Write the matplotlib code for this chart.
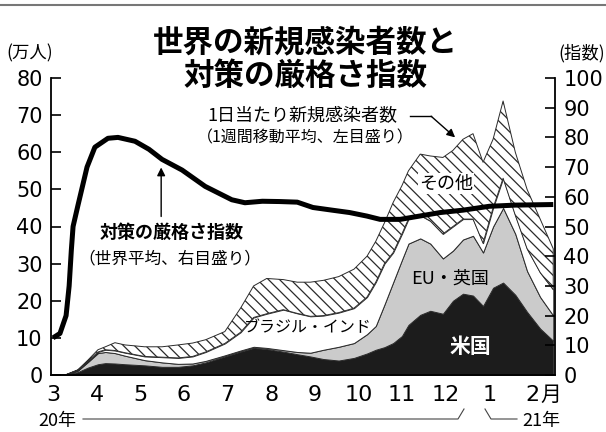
import matplotlib.pyplot as plt
import numpy as np
from matplotlib.lines import Line2D

# month position: 0 = 2020-03-01, 1 = 04-01, ... 11 = 2021-02-01
month_pos = list(range(12))
month_labels = ["3", "4", "5", "6", "7", "8", "9", "10", "11", "12", "1", "2"]

# new cases per day, 7-day avg (10k people), stacked
m = [0, 0.3, 0.57, 0.8, 1.03, 1.2, 1.42, 1.65, 2.1, 2.5, 2.87, 3.2, 3.5, 3.94,
     4.3, 4.6, 4.9, 5.28, 5.6, 5.9, 6.2, 6.55, 6.9, 7.2, 7.4, 7.6, 7.8, 8.0,
     8.15, 8.42, 8.65, 8.94, 9.17, 9.4, 9.63, 9.86, 10.09, 10.32, 10.6, 10.87,
     11.17, 11.47]
us = [0, 0.1, 0.8, 2.0, 2.9, 3.2, 3.1, 2.9, 2.6, 2.2, 2.2, 2.6, 3.4, 5.0,
      6.3, 7.3, 7.0, 6.3, 5.6, 5.0, 4.3, 3.9, 4.6, 5.8, 6.8, 7.5, 8.6, 10.5,
      13.5, 16.2, 17.3, 16.5, 20.0, 21.9, 21.4, 18.6, 23.5, 24.9, 21.6, 17.0,
      12.5, 9.2]
eu_uk = [0, 0, 0.4, 1.5, 3.0, 3.0, 2.8, 2.3, 1.4, 1.2, 0.8, 0.5, 0.4, 0.3,
         0.3, 0.3, 0.3, 0.4, 0.6, 1.0, 2.5, 3.7, 4.0, 5.2, 6.4, 11.5, 16.4, 20.5,
         21.9, 20.6, 18.1, 14.9, 13.5, 14.6, 16.1, 14.4, 16.5, 20.1, 16.4, 11.0,
         8.5, 6.8]
brazil_india = [0, 0, 0.1, 0.2, 0.3, 0.6, 0.7, 0.8, 1.0, 1.4, 1.6, 1.9, 2.4, 3.2,
                4.9, 7.9, 9.2, 10.9, 10.4, 9.8, 9.2, 9.2, 9.4, 10.0, 11.8, 11.0, 8.0, 7.0,
                6.6, 6.2, 6.1, 6.6, 6.5, 5.5, 4.5, 2.5, 5.0, 8.0, 5.0, 6.0,
                6.6, 7.0]
others = [0, 0, 0.1, 0.3, 0.6, 0.8, 2.1, 2.1, 2.6, 2.8, 3.5, 3.6, 3.3, 3.2,
          6.5, 8.5, 9.5, 8.1, 8.4, 9.2, 9.5, 9.7, 10.5, 11.0, 11.0, 11.0, 13.5, 13.0,
          13.0, 16.5, 17.5, 20.6, 20.5, 21.5, 23.0, 21.8, 18.5, 20.8, 17.0, 16.0,
          14.4, 11.0]

# stringency index (world average, right axis)
s_m = [0, 0.16, 0.3, 0.37, 0.42, 0.46, 0.57, 0.78, 0.96, 1.26, 1.49, 1.88, 2.2,
       2.5, 2.96, 3.49, 4.1, 4.4, 4.8, 5.2, 5.6, 5.96, 6.4, 6.8, 7.2, 7.5, 7.96,
       8.4, 8.88, 9.4, 10.0, 10.6, 11.47]
s_val = [12.5, 14, 20, 30, 42, 50, 57, 70, 76.7, 79.7, 80, 78.7, 76, 72.6, 69,
         63.5, 59, 58, 58.5, 58.4, 58.2, 56.4, 55.5, 54.7, 53.5, 52.4, 52.4,
         53.5, 54.7, 55.5, 56.8, 57.2, 57.4]

W, H = 606, 432
def fx(px): return px / W
def fy(py): return 1 - py / H

cjk = ["Noto Sans CJK JP", "DejaVu Sans"]
plt.rcParams["hatch.linewidth"] = 0.9

fig = plt.figure(figsize=(6.06, 4.32), dpi=100)
ax = fig.add_axes([fx(51), fy(375), fx(555) - fx(51), fy(78) - fy(375)])

polys = ax.stackplot(m, us, eu_uk, brazil_india, others,
                     colors=["#1c1c1c", "#cbcbcb", "white", "white"],
                     edgecolor="#2a2a2a", linewidth=0.7)
polys[3].set_hatch("\\" * 3)

ax.set_xlim(-0.046, 11.51)
ax.set_ylim(0, 80)
ax.set_yticks(range(0, 90, 10))
ax.set_xticks(month_pos)
ax.set_xticklabels(month_labels)
ax.tick_params(axis="y", direction="in", length=7, width=1.2, pad=6, labelsize=15)
ax.tick_params(axis="x", length=0, pad=7, labelsize=16)
for s in ["top", "right"]:
    ax.spines[s].set_visible(False)
ax.spines["left"].set_linewidth(1.3)
ax.spines["bottom"].set_linewidth(1.3)

ax2 = ax.twinx()
ax2.plot(s_m, s_val, color="black", lw=3.6, solid_capstyle="butt")
ax2.set_ylim(0, 100)
ax2.set_yticks(range(0, 110, 10))
ax2.tick_params(axis="y", direction="in", length=7, width=1.2, pad=6, labelsize=15)
for s in ["top", "left", "bottom"]:
    ax2.spines[s].set_visible(False)
ax2.spines["right"].set_linewidth(1.3)

# labels inside the chart (left axis data coords)
ax.text(9.56, 7.8, "米国", family=cjk, fontsize=15, fontweight="bold",
        color="white", ha="center", va="center")
ax.text(9.1, 25.9, "EU・英国", family=cjk, fontsize=13, ha="center", va="center")
ax.text(5.85, 12.7, "ブラジル・インド", family=cjk, fontsize=11.5, ha="center", va="center")
ax2.text(9.01, 51.6 * 1.25, "その他", family=cjk, fontsize=13, ha="center", va="center",
         bbox=dict(facecolor="white", edgecolor="none", pad=1))

ax2.text(5.71, 69.7 * 1.25, "1日当たり新規感染者数", family=cjk, fontsize=13,
         ha="center", va="center")
ax2.text(5.78, 63.8 * 1.25, "（1週間移動平均、左目盛り）", family=cjk, fontsize=11.5,
         ha="center", va="center")
ax2.plot([8.19, 8.67], [69.7 * 1.25, 69.7 * 1.25], color="black", lw=1)
ax2.annotate("", xy=(9.22, 64 * 1.25), xytext=(8.67, 69.7 * 1.25),
             arrowprops=dict(arrowstyle="-|>", color="black", lw=1, mutation_scale=12,
                             shrinkA=0, shrinkB=0))

ax2.text(2.71, 38.4 * 1.25, "対策の厳格さ指数", family=cjk, fontsize=13,
         fontweight="bold", ha="center", va="center")
ax2.text(2.68, 31.4 * 1.25, "（世界平均、右目盛り）", family=cjk, fontsize=12,
         ha="center", va="center")
ax2.annotate("", xy=(2.48, 55.9 * 1.25), xytext=(2.48, 42.7 * 1.25),
             arrowprops=dict(arrowstyle="-|>", color="black", lw=1, mutation_scale=12,
                             shrinkA=0, shrinkB=0))

# titles and units
fig.text(fx(305), fy(42), "世界の新規感染者数と", family=cjk, fontsize=22,
         fontweight="bold", ha="center", va="center")
fig.text(fx(305), fy(76), "対策の厳格さ指数", family=cjk, fontsize=22,
         fontweight="bold", ha="center", va="center")
fig.text(fx(30), fy(53), "(万人)", family=cjk, fontsize=12.5, ha="center", va="center")
fig.text(fx(582), fy(53), "(指数)", family=cjk, fontsize=12.5, ha="center", va="center")
fig.text(fx(551), fy(395), "月", family=cjk, fontsize=15, ha="center", va="center")

# year brackets under the months
fig.text(fx(57), fy(421), "20年", family=cjk, fontsize=13, ha="center", va="center")
fig.text(fx(541), fy(421), "21年", family=cjk, fontsize=13, ha="center", va="center")
bline = dict(color="#444", lw=0.8, transform=fig.transFigure)
fig.add_artist(Line2D([fx(83), fx(458), fx(464)], [fy(419), fy(419), fy(409)], **bline))
fig.add_artist(Line2D([fx(485), fx(491), fx(517)], [fy(409), fy(419), fy(419)], **bline))
# top rule
fig.add_artist(Line2D([0, 1], [fy(5), fy(5)], color="#777", lw=1.5, transform=fig.transFigure))

fig.savefig("out.png", dpi=100)
